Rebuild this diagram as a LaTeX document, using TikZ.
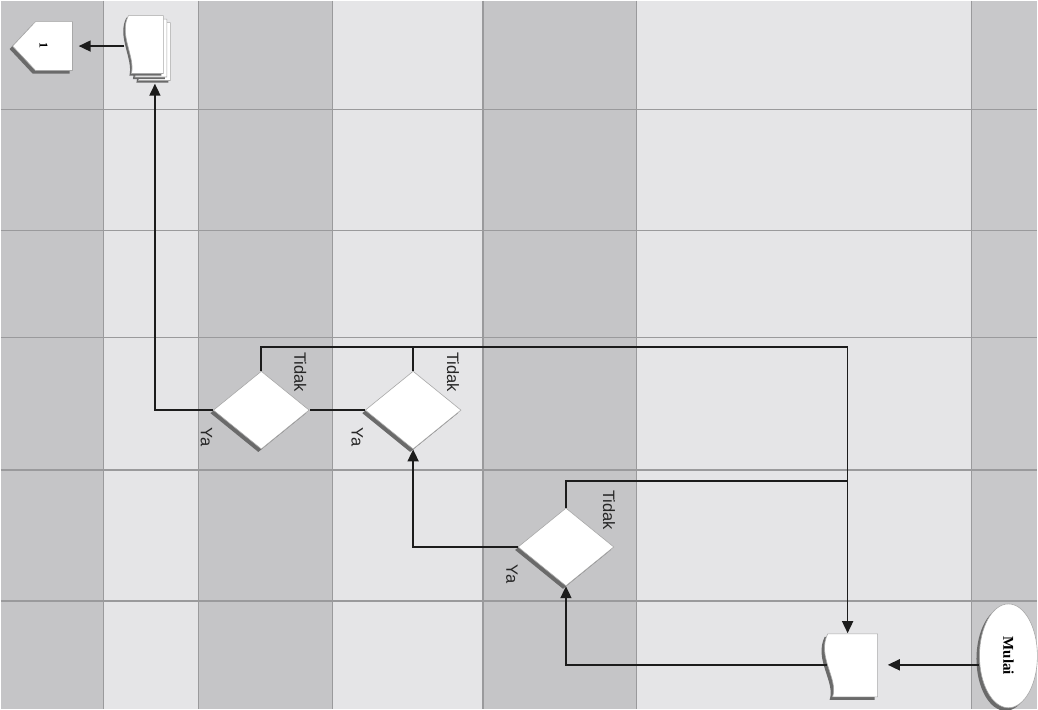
\documentclass[tikz,border=0pt]{standalone}
\usepackage{fontspec}
\setmainfont{Liberation Serif}
\setsansfont{Liberation Sans}
\usepackage{graphicx}
\usetikzlibrary{shapes.geometric,arrows.meta,calc,shadows}
\definecolor{colDark}{HTML}{C5C5C7}
\definecolor{colLight}{HTML}{E5E5E7}
\definecolor{gridc}{HTML}{9A9A9C}
\definecolor{shadowc}{HTML}{6A6A6A}
\definecolor{linec}{HTML}{1C1C1C}
\definecolor{edgec}{HTML}{A8A8A8}
\begin{document}
\begin{tikzpicture}[x=1pt,y=-1pt,
  conn/.style={draw=linec, line width=1.7pt},
  arr/.style={conn, -{Triangle[length=12pt,width=11pt]}},
  dec/.style={diamond, fill=white, draw=edgec, line width=0.6pt, minimum width=96pt, minimum height=78pt, inner sep=0pt,
    general shadow={shadow xshift=-3pt, shadow yshift=-3pt, fill=shadowc}},
  hold/.style={rectangle, draw=none, inner sep=0pt},
  shapefill/.style={fill=white, draw=edgec, line width=0.6pt},
  shadowfill/.style={fill=shadowc},
  lbl/.style={font=\sffamily\fontsize{16.5}{18}\selectfont, rotate=-90, inner sep=0pt, text=black!85},
  gridline/.style={draw=gridc, line width=1.2pt}]
% background columns
\fill[colDark] (0,0) rectangle (103,709);
\fill[colLight] (103,0) rectangle (198,709);
\fill[colDark] (198,0) rectangle (332,709);
\fill[colLight] (332,0) rectangle (483,709);
\fill[colDark] (483,0) rectangle (637,709);
\fill[colLight] (637,0) rectangle (972,709);
\fill[colDark!95!white] (972,0) rectangle (1038,709);
\foreach \gx in {103,198,332,483,637,972} \draw[gridline] (\gx,0) -- (\gx,709);
\foreach \gy in {109,230,337,470,601} \draw[gridline] (0,\gy) -- (1038,\gy);
\useasboundingbox (0,0) rectangle (1038,709);

% start ellipse
\fill[shadowc] (1006,659) ellipse [x radius=29, y radius=52];
\node[ellipse, fill=white, draw=edgec, line width=0.6pt, minimum width=58pt, minimum height=104pt, inner sep=0pt]
  (start) at (1009,656) {\rotatebox{-90}{\fontsize{15}{17}\selectfont\bfseries Mulai}};

% document
\node[hold, minimum width=50pt, minimum height=63pt] (doc) at (853,665) {};
\begin{scope}[shift={(853,665)}]
  \fill[shadowfill, shift={(-3,3)}] (25,-31) -- (-25,-31) .. controls (-36,-8) and (-14,14) .. (-20,32) -- (25,32) -- cycle;
  \path[shapefill] (25,-31) -- (-25,-31) .. controls (-36,-8) and (-14,14) .. (-20,32) -- (25,32) -- cycle;
\end{scope}

% multi document
\node[hold, minimum width=47pt, minimum height=69pt] (mdoc) at (147.5,48.5) {};
\foreach \o in {7,3.5,0} {
  \begin{scope}[shift={(145+\o,44+\o)}]
    \fill[shadowfill, shift={(-2,2)}] (18,-29) -- (-17,-29) .. controls (-27,-10) and (-10,12) .. (-14,29) -- (18,29) -- cycle;
    \path[shapefill] (18,-29) -- (-17,-29) .. controls (-27,-10) and (-10,12) .. (-14,29) -- (18,29) -- cycle;
  \end{scope}
}

% off-page connector
\node[hold, minimum width=60pt, minimum height=49pt] (conn) at (42,45.5) {};
\fill[shadowfill] (69,24) -- (32,24) -- (9,48.5) -- (32,73) -- (69,73) -- cycle;
\path[shapefill] (72,21) -- (35,21) -- (12,45.5) -- (35,70) -- (72,70) -- cycle;
\node at (43,45) {\rotatebox{-90}{\fontsize{12}{14}\selectfont\bfseries 1}};

% decisions
\node[dec] (d1) at (261,410) {};
\node[dec] (d2) at (413,410) {};
\node[dec] (d3) at (566,547) {};

% junction coordinates
\coordinate (j1) at (848,347);
\coordinate (j2) at (848,481);

% connectors
\draw[arr] (start.west |- doc.east) -- ([xshift=10pt]doc.east);
\draw[arr] (doc.west) -| (d3.south);
\draw[arr] (d3.west) -| (d2.south);
\draw[conn] (d2.west) -- (d1.east);
\draw[arr] (d1.west) -| ([xshift=7pt]mdoc.south);
\draw[arr] (mdoc.west |- conn.east) -- ([xshift=6pt]conn.east);
\draw[conn] (d1.north) |- (j1);
\draw[conn] (d2.north) -- (d2.north |- j1);
\draw[conn] (d3.north) |- (j2);
\draw[arr] (j1) -- ([xshift=-5pt]doc.north);

% labels
\node[lbl] (t1) at (300,372) {Tidak};
\node[lbl] (t2) at (453,372) {Tidak};
\node[lbl] (t3) at (609,510) {Tidak};
\node[lbl] (y1) at (206,437) {Ya};
\node[lbl] (y2) at (357,437) {Ya};
\node[lbl] (y3) at (512,574) {Ya};
\end{tikzpicture}
\end{document}
